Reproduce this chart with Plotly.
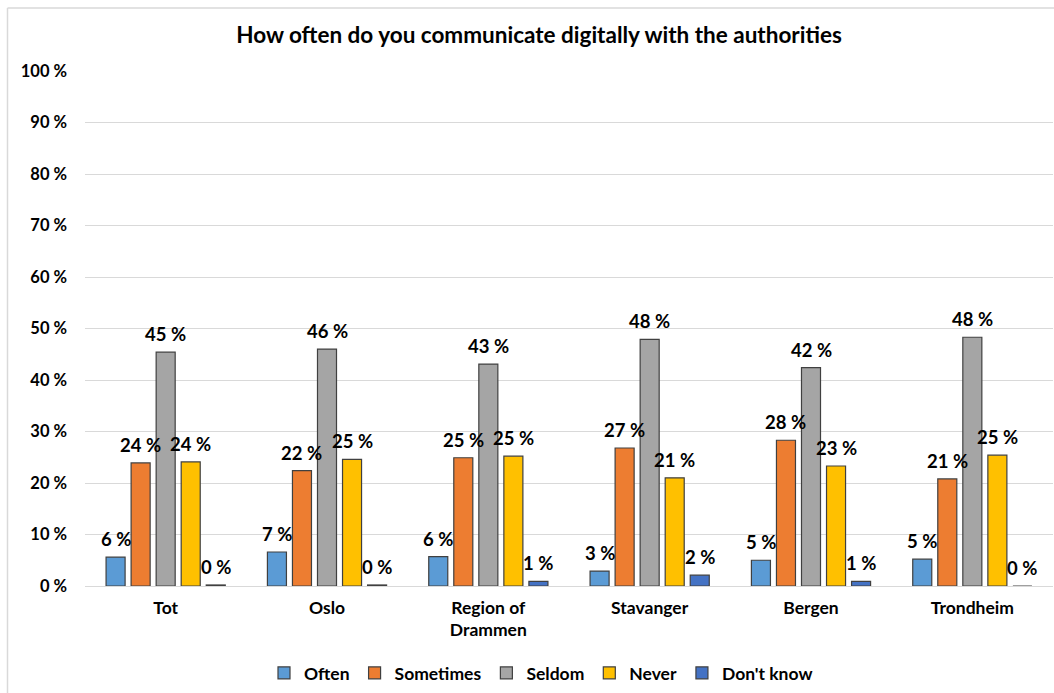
import plotly.graph_objects as go

# Survey data: share of respondents (%) per region and answer
regions = ["Tot", "Oslo", "Region of<br>Drammen", "Stavanger", "Bergen", "Trondheim"]
often = [5.6, 6.6, 5.7, 2.9, 5.0, 5.2]
sometimes = [23.9, 22.4, 24.9, 26.8, 28.3, 20.8]
seldom = [45.4, 46.0, 43.1, 47.9, 42.4, 48.3]
never = [24.1, 24.6, 25.2, 21.0, 23.3, 25.4]
dont_know = [0.2, 0.2, 0.9, 2.1, 0.9, 0.0]

series = [
    ("Often", often, "#5B9BD5"),
    ("Sometimes", sometimes, "#ED7D31"),
    ("Seldom", seldom, "#A5A5A5"),
    ("Never", never, "#FFC000"),
    ("Don't know", dont_know, "#4472C4"),
]

FONT = "Lato"
W, H = 1054, 693
ML, MR, MT, MB = 85, 1, 71, 107
BARGAP, GROUPGAP = 0.224, 0.24

pw = W - ML - MR
ph = H - MT - MB

fig = go.Figure()
for name, vals, color in series:
    fig.add_trace(go.Bar(
        name=name,
        x=regions,
        y=vals,
        marker=dict(color=color, line=dict(color="#404040", width=1.2)),
    ))

# value labels above each bar, shifted to the bar's slot inside its group
slot = pw / len(regions) * (1 - BARGAP) / len(series)
mid = (len(series) - 1) / 2
for i, (name, vals, color) in enumerate(series):
    for cat, v in zip(regions, vals):
        fig.add_annotation(
            x=cat, y=v, xref="x", yref="y",
            text=f"{v:.0f} %",
            showarrow=False,
            xanchor="center", yanchor="bottom",
            xshift=(i - mid) * slot, yshift=5,
            font=dict(family=FONT, size=18.5, color="#000000", weight="bold"),
        )

# light grey frame along the top and left edge of the chart area
fx = (7.5 - ML) / pw
fy = (H - MB - 8) / ph
fb = -(MB + 5) / ph
fr = (W + 5 - ML) / pw
fig.add_shape(type="line", xref="paper", yref="paper", x0=fx, x1=fx, y0=fb, y1=fy,
              line=dict(color="#D9D9D9", width=1.5))
fig.add_shape(type="line", xref="paper", yref="paper", x0=fx, x1=fr, y0=fy, y1=fy,
              line=dict(color="#D9D9D9", width=1.5))

fig.update_layout(
    width=W, height=H,
    margin=dict(l=ML, r=MR, t=MT, b=MB),
    paper_bgcolor="white",
    plot_bgcolor="white",
    barmode="group",
    bargap=BARGAP,
    bargroupgap=GROUPGAP,
    title=dict(
        text="How often do you communicate digitally with the authorities",
        font=dict(family=FONT, size=22.5, color="#000000", weight="bold"),
        x=539 / W, xref="container", xanchor="center",
        y=1 - 35 / H, yref="container", yanchor="middle",
    ),
    xaxis=dict(
        showgrid=False,
        showline=False,
        ticks="",
        tickfont=dict(family=FONT, size=17.5, color="#000000", weight="bold"),
        ticklabelstandoff=9,
    ),
    yaxis=dict(
        range=[0, 100],
        tickvals=[0, 10, 20, 30, 40, 50, 60, 70, 80, 90, 100],
        ticktext=[f"{v} %" for v in range(0, 101, 10)],
        showgrid=True,
        gridcolor="#D9D9D9",
        gridwidth=1,
        zeroline=True,
        zerolinecolor="#D9D9D9",
        zerolinewidth=1,
        showline=False,
        ticks="",
        tickfont=dict(family=FONT, size=16.5, color="#000000", weight="bold"),
        ticklabelstandoff=17,
    ),
    legend=dict(
        orientation="h",
        xref="container", yref="container",
        x=541 / W, xanchor="center",
        y=1 - 673 / H, yanchor="middle",
        font=dict(family=FONT, size=17.5, color="#000000", weight="bold"),
        itemwidth=30,
        traceorder="normal",
    ),
    showlegend=True,
)

fig.write_html("out.html")
